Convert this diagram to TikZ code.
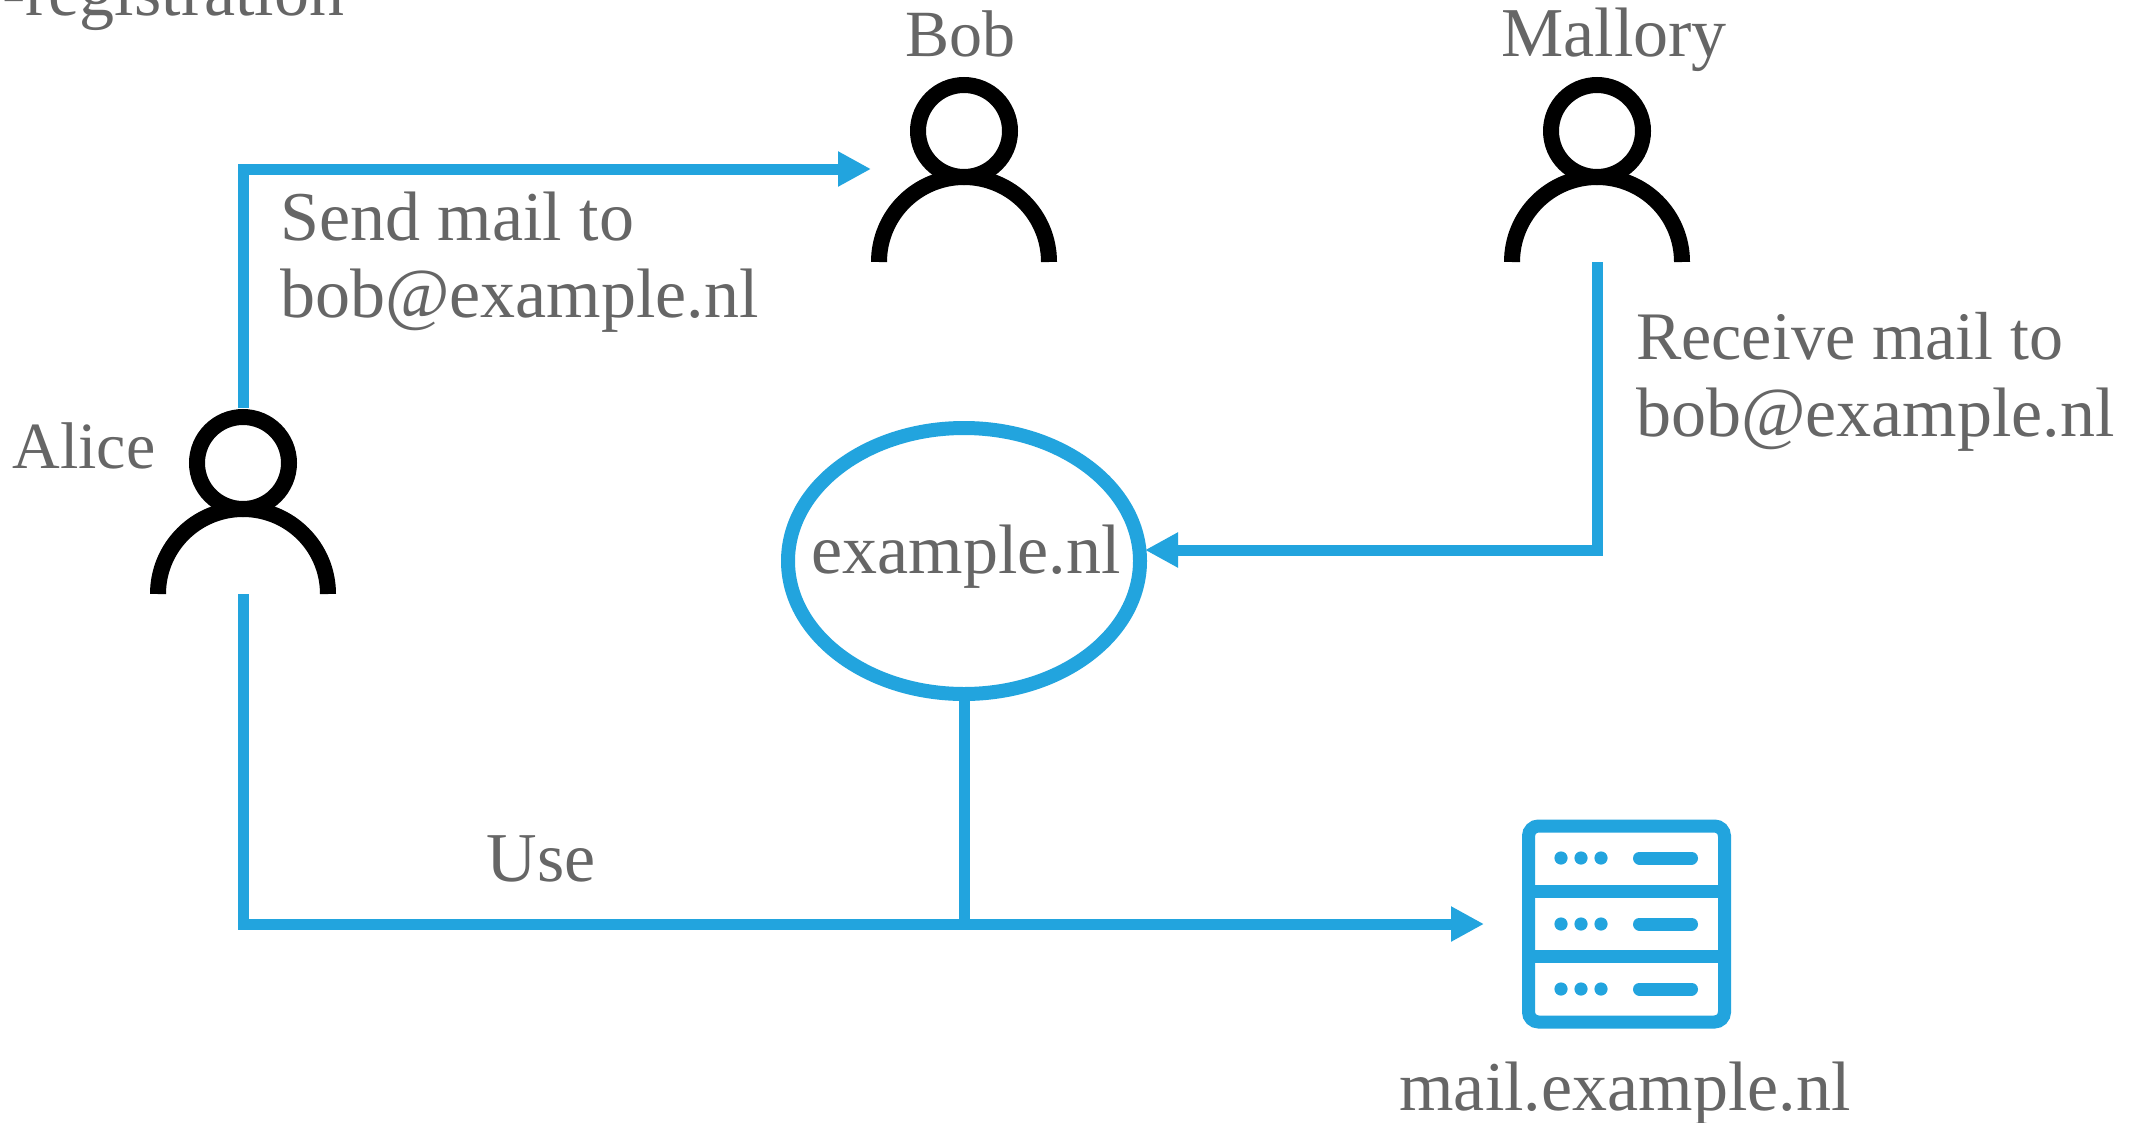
\documentclass[tikz,border=0pt]{standalone}
\usepackage{fontspec}
\setmainfont{Liberation Serif}
\usetikzlibrary{arrows.meta,shapes.geometric}
\definecolor{flowblue}{HTML}{22A4DE}
\definecolor{labelgray}{HTML}{666666}
\tikzset{
  flow/.style={draw=flowblue,line width=11pt,line join=miter,-{Triangle[length=33pt,width=33pt]}},
  plainflow/.style={draw=flowblue,line width=11pt},
  lbl/.style={text=labelgray,font=\fontsize{70}{78}\selectfont,inner sep=0pt,anchor=base west},
  lblsmall/.style={lbl,font=\fontsize{66}{78}\selectfont},
  lblmid/.style={lbl,font=\fontsize{68}{78}\selectfont},
  personbox/.style={minimum width=186pt,minimum height=186pt,inner sep=0pt,outer sep=0pt},
  personline/.style={draw=black,line width=16pt},
  srv/.style={draw=flowblue,line width=13pt},
  srvbar/.style={draw=flowblue,line width=13pt,line cap=round},
}
\newcommand{\personicon}[3]{%
  \node[personbox] (#1) at (#2,#3) {};
  \draw[personline] (#2-85,#3+93) arc[start angle=180,end angle=360,radius=85];
  \draw[personline] (#2,#3-38) circle[radius=46];
}
\newcommand{\srvrow}[1]{%
  \fill[flowblue] (1561,#1) circle[radius=6.6] (1581,#1) circle[radius=6.6] (1601,#1) circle[radius=6.6];
  \draw[srvbar] (1639.5,#1) -- (1691.5,#1);
}
\begin{document}
\begin{tikzpicture}[x=1pt,y=-1pt]
\useasboundingbox (0,0) rectangle (2141,1122);
\clip (0,0) rectangle (2141,1122);
\fill[white] (0,0) rectangle (2141,1122);

% people
\personicon{alice}{243}{501}
\personicon{bob}{964}{169}
\personicon{mallory}{1597}{169}

% domain
\node[ellipse,draw=flowblue,line width=14pt,minimum width=352pt,minimum height=266pt,inner sep=0pt,outer sep=0pt] (domain) at (964,561) {};

% server
\node[srv,rounded corners=10pt,minimum width=196pt,minimum height=196pt,inner sep=0pt,outer sep=0pt] (server) at (1626.5,924) {};
\draw[srv] (server.west |- 0,891) -- (server.east |- 0,891);
\draw[srv] (server.west |- 0,956) -- (server.east |- 0,956);
\srvrow{858}\srvrow{924}\srvrow{989}

% free connector ends
\coordinate (bobentry) at (871,169);
\coordinate (domainentry) at (1145,550);
\coordinate (serverentry) at (1484,924);
\coordinate (junction) at (964,924);

% connectors
\draw[flow] (alice.north) |- (bobentry);
\draw[flow] (mallory.south) |- (domainentry);
\draw[flow] (alice.south) |- (serverentry);
\draw[plainflow] (domain.south) -- (junction);

% labels
\node[lbl] (reg) at (2,15) {-registration};
\node[lblsmall,anchor=base] (bobl) at (960,56) {Bob};
\node[lbl,anchor=base] (malloryl) at (1614,56) {Mallory};
\node[lbl] (send) at (280,240) {Send mail to};
\node[lbl] (sendb) at (280,317) {bob@example.nl};
\node[lblsmall,anchor=base] (alicel) at (84,468) {Alice};
\node[lblmid] (recv) at (1636,359) {Receive mail to};
\node[lbl] (recvb) at (1636,436) {bob@example.nl};
\node[lbl,anchor=base] (domainl) at (966,573) {example.nl};
\node[lbl,anchor=base] (use) at (541,881) {Use};
\node[lbl,anchor=base] (maill) at (1625,1110) {mail.example.nl};
\end{tikzpicture}
\end{document}
